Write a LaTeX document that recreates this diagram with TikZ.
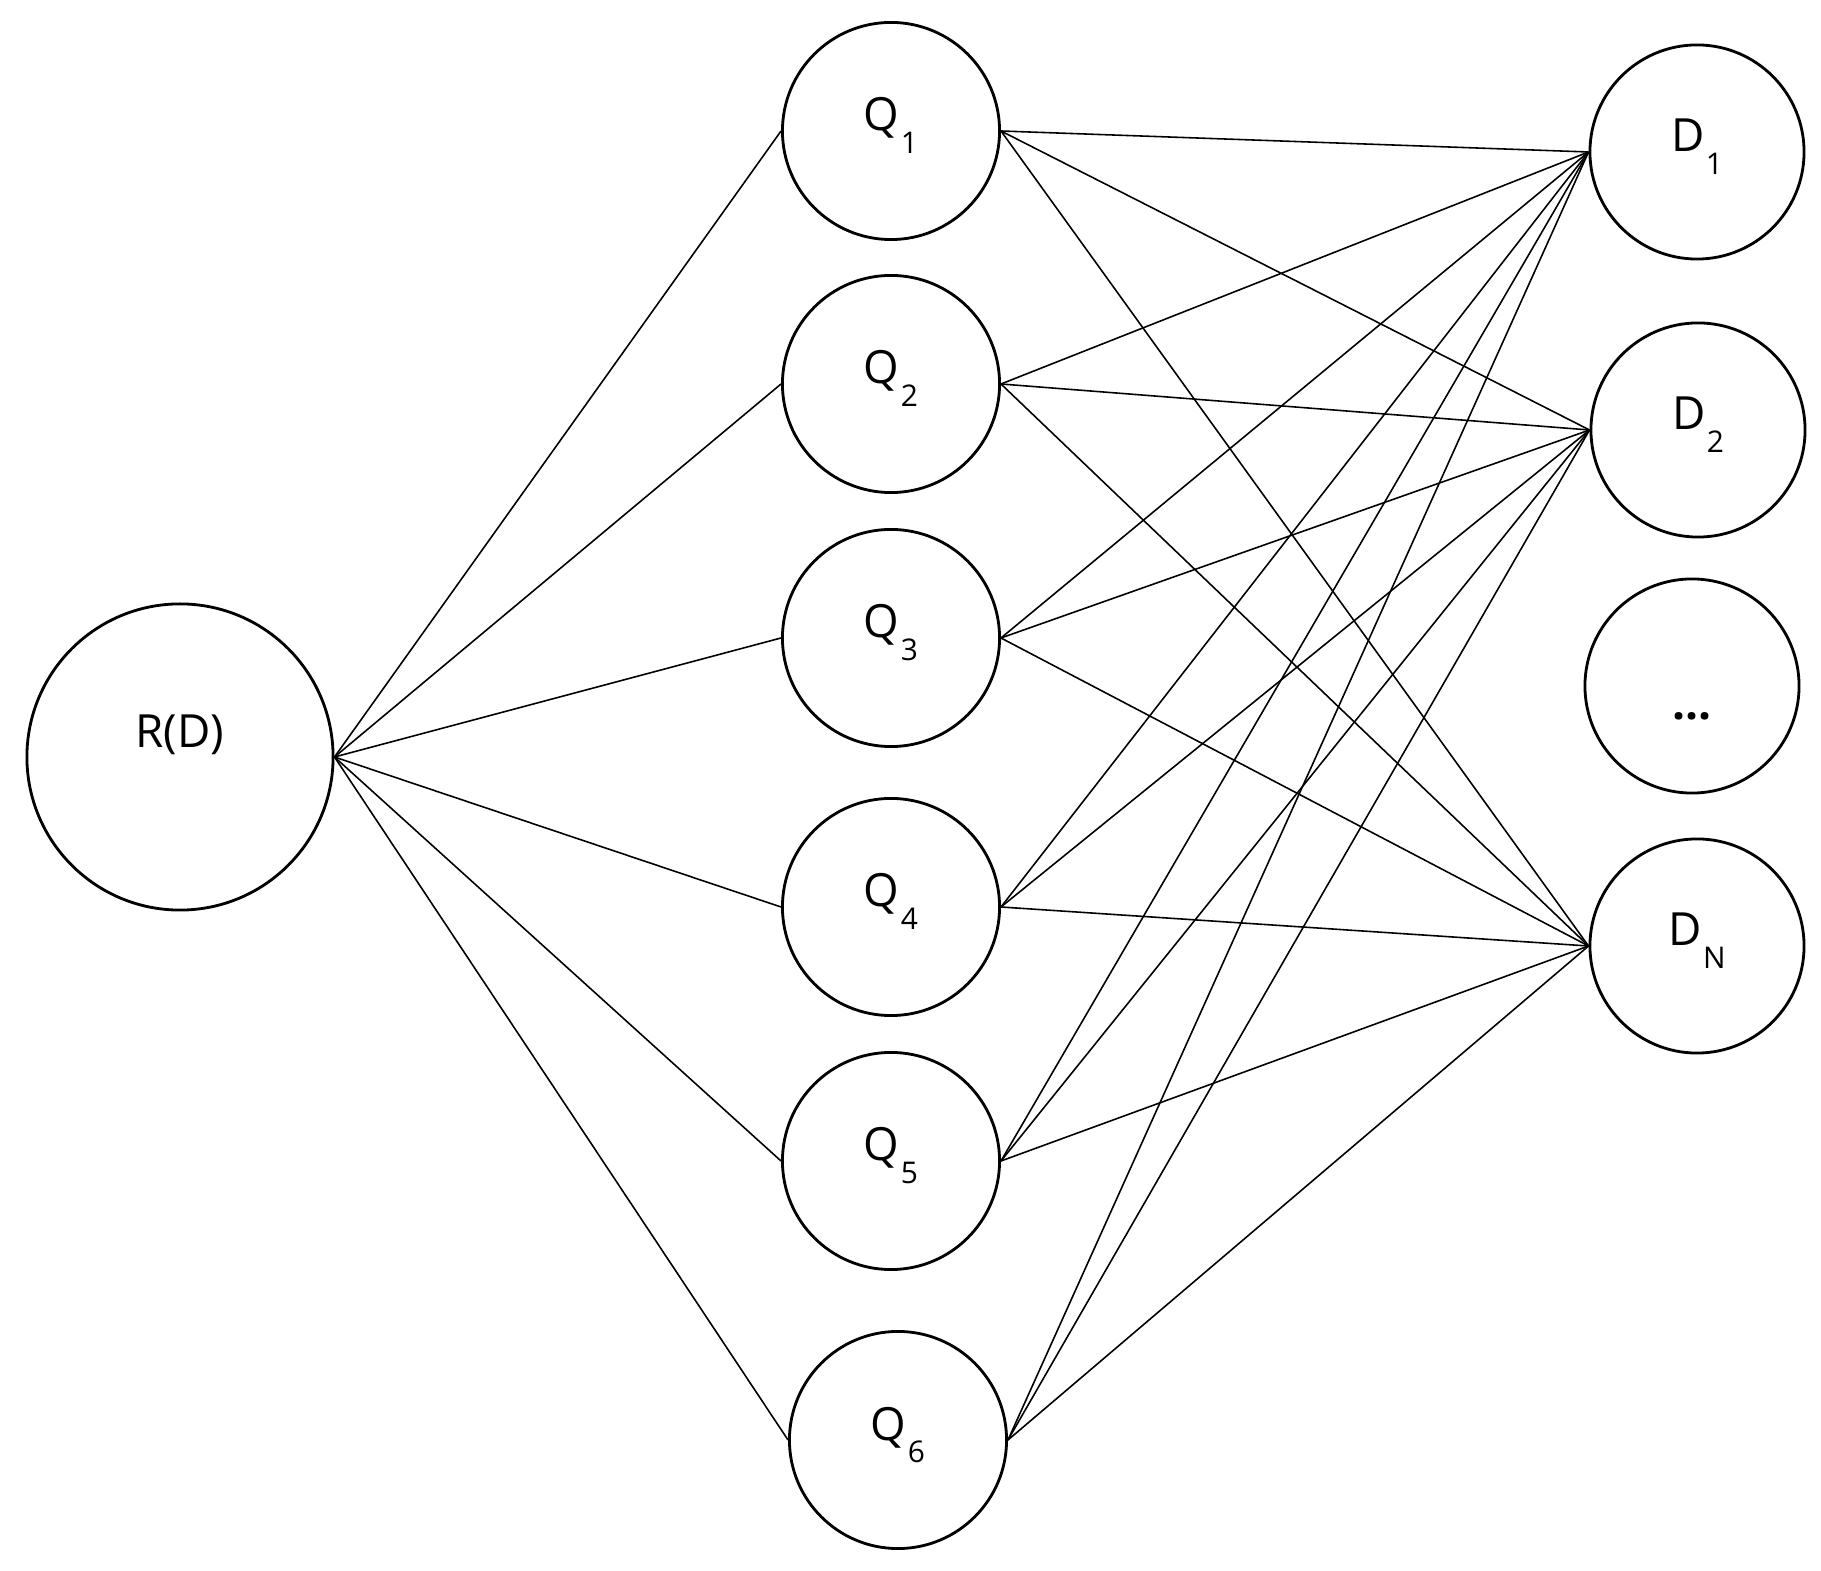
\documentclass[tikz,border=0pt]{standalone}
\usepackage{fontspec}
\setmainfont{Open Sans}
\newcommand{\idx}[2]{#1\kern0.4pt\raisebox{-6.3pt}{\fontsize{8.5}{9}\selectfont #2}}
\begin{document}
\begin{tikzpicture}[x=0.01cm,y=-0.01cm,
        state/.style={circle, draw, line width=0.8pt, inner sep=0pt,
            text height=0.3cm, text depth=0.3cm, font=\fontsize{13}{15}\selectfont},
        qnode/.style={state, minimum size=2.17cm},
        dnode/.style={state, minimum size=2.14cm},
        link/.style={line width=0.45pt}]
        \useasboundingbox (0,0) rectangle (1821,1571);

        % root
        \node[state, minimum size=3.06cm, text height=0.35cm, text depth=0.53cm] (R) at (180,757) {R(D)};

        % queries
        \node[qnode] (Q1) at (891,131) {\idx{Q}{1}};
        \node[qnode] (Q2) at (891,384) {\idx{Q}{2}};
        \node[qnode] (Q3) at (891,638) {\idx{Q}{3}};
        \node[qnode] (Q4) at (891,907) {\idx{Q}{4}};
        \node[qnode] (Q5) at (891,1161) {\idx{Q}{5}};
        \node[qnode] (Q6) at (898,1440) {\idx{Q}{6}};

        % documents
        \node[dnode] (D1) at (1697,152) {\idx{D}{1}};
        \node[dnode] (D2) at (1698,430) {\idx{D}{2}};
        \node[dnode, text height=0.66cm, text depth=0cm] (Ddots) at (1692,686) {\bfseries ...};
        \node[dnode] (DN) at (1697,946) {\idx{D}{N}};

        % edges
        \foreach \i in {1,...,6} {
            \draw[link] (R.east) -- (Q\i.west);
            \foreach \d in {D1,D2,DN}
                \draw[link] (Q\i.east) -- (\d.west);
        }
    \end{tikzpicture}
\end{document}
